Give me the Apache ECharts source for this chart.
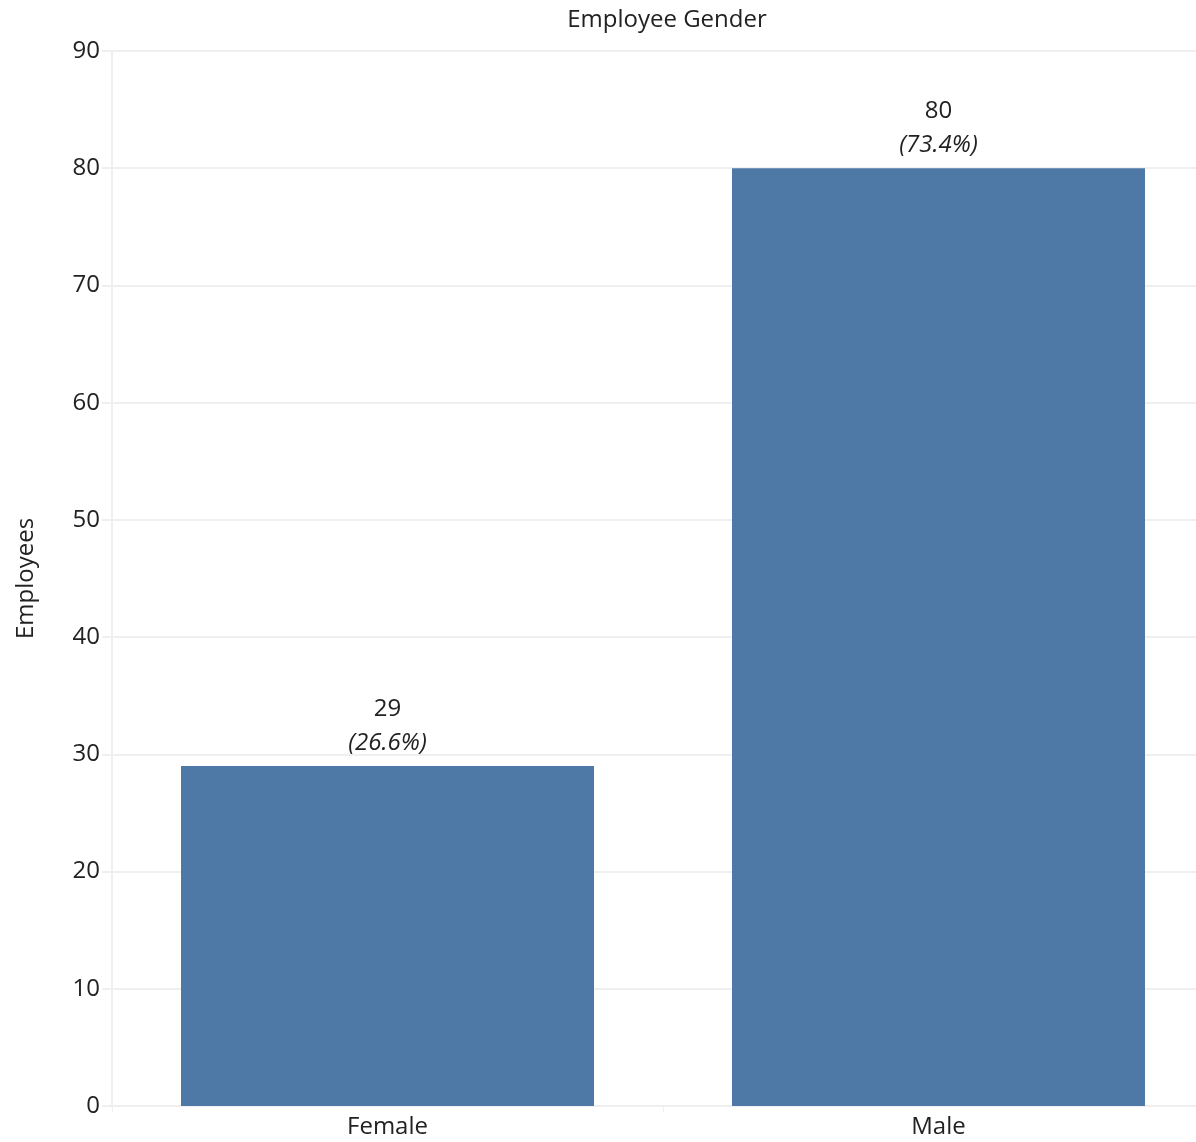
<!DOCTYPE html>
<html>
<head>
<meta charset="utf-8">
<script src="https://cdn.jsdelivr.net/npm/echarts@6/dist/echarts.min.js"></script>
<style>
  html, body { margin: 0; padding: 0; background: #ffffff; overflow: hidden; }
  /* plot runs a little past the right edge of the window */
  #chart { width: 1214px; height: 1142px; }
</style>
</head>
<body>
<div id="chart"></div>
<script>
// Headcount by gender
const genders = ['Female', 'Male'];
const employees = [29, 80];
const shares = ['26.6%', '73.4%'];
const yTicks = [0, 10, 20, 30, 40, 50, 60, 70, 80, 90];

const FONT = '"Open Sans", "Noto Sans", sans-serif';
const TEXT = '#222222';
const gridColor = '#efefef';

const chart = echarts.init(document.getElementById('chart'));
chart.setOption({
  animation: false,
  title: {
    text: 'Employee Gender',
    left: 662,
    top: 3,
    textAlign: 'center',
    textStyle: { fontFamily: FONT, fontSize: 24, fontWeight: 'normal', color: TEXT }
  },
  grid: {
    left: 112, top: 51, width: 1102, height: 1055,
    containLabel: false,
    outerBoundsMode: 'none'
  },
  xAxis: {
    type: 'category',
    data: genders,
    axisLine: { show: true, lineStyle: { color: gridColor, width: 2 } },
    axisTick: { show: true, alignWithLabel: false, length: 6, lineStyle: { color: gridColor } },
    axisLabel: { fontFamily: FONT, fontSize: 24, color: TEXT, margin: 9 },
    splitLine: { show: false }
  },
  yAxis: {
    type: 'value',
    min: yTicks[0],
    max: yTicks[yTicks.length - 1],
    interval: 10,
    name: 'Employees',
    nameLocation: 'middle',
    nameGap: 74,
    nameRotate: 90,
    nameTextStyle: { fontFamily: FONT, fontSize: 24, color: TEXT },
    axisLine: { show: true, lineStyle: { color: gridColor, width: 2 } },
    axisTick: { show: true, length: 10, lineStyle: { color: gridColor, width: 2 } },
    axisLabel: { fontFamily: FONT, fontSize: 24, color: TEXT, margin: 12 },
    splitLine: { show: true, lineStyle: { color: gridColor, width: 2 } }
  },
  series: [{
    type: 'bar',
    data: employees,
    barWidth: 413,
    itemStyle: { color: '#4e79a7' },
    label: {
      show: true,
      position: 'top',
      distance: 6,
      formatter: (p) => '{v|' + p.value + '}\n{p|(' + shares[p.dataIndex] + ')}',
      rich: {
        v: { fontFamily: FONT, fontSize: 24, color: TEXT, lineHeight: 34, align: 'center' },
        p: { fontFamily: FONT, fontSize: 24, fontStyle: 'italic', color: TEXT, lineHeight: 34, align: 'center' }
      }
    }
  }]
});
</script>
</body>
</html>
